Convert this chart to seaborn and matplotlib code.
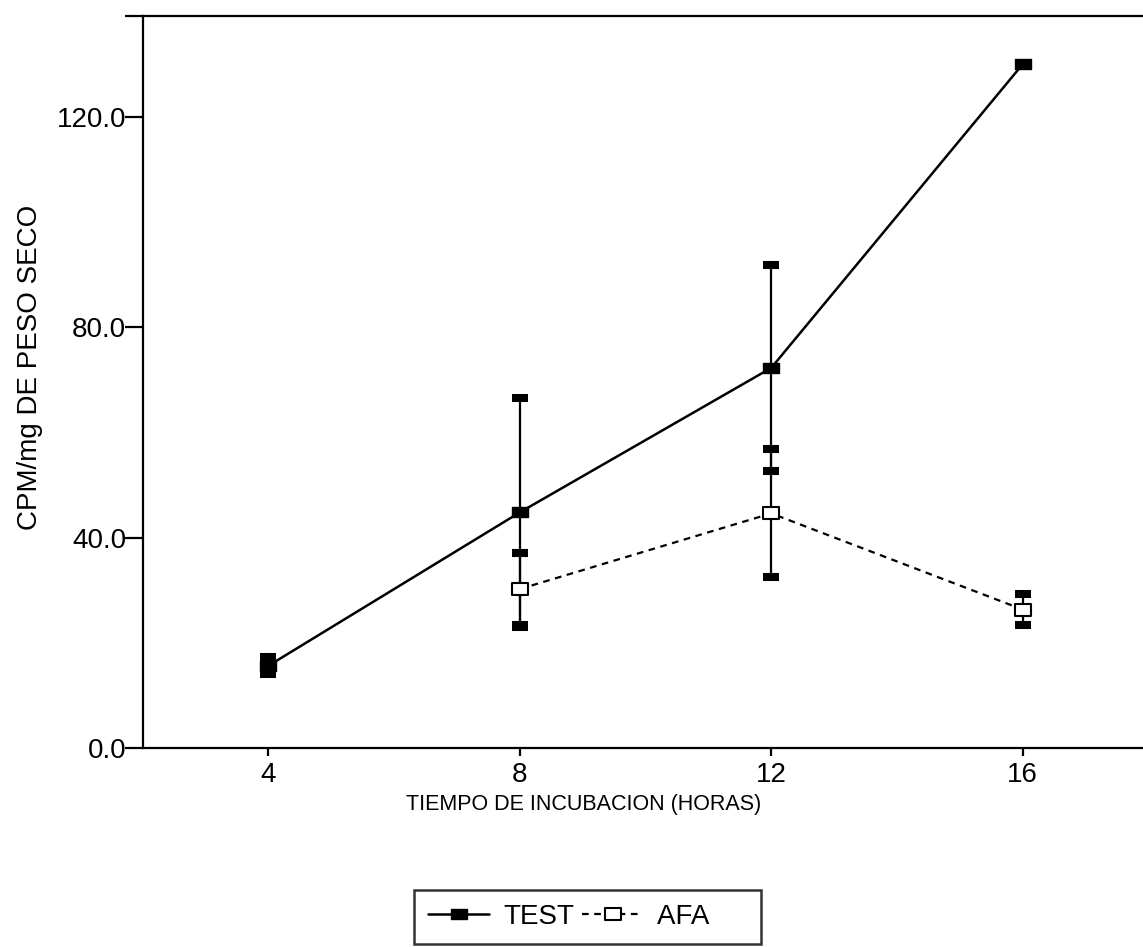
import numpy as np
import pandas as pd
import matplotlib
matplotlib.use("Agg")
import matplotlib.pyplot as plt
from matplotlib.path import Path
import seaborn as sns

# ---- data ----
hours = [4, 8, 12, 16]
test_values = [15.6, 44.8, 72.3, 130.1]
test_err = [1.6, 21.8, 19.6, 0.0]
afa_hours = [8, 12, 16]
afa_values = [30.2, 44.6, 26.3]
afa_err = [6.9, 12.2, 2.9]
y_ticks = [0.0, 40.0, 80.0, 120.0]
y_tick_labels = ["0.0", "40.0", "80.0", "120.0"]
x_ticks = [4, 8, 12, 16]
series_names = ["TEST", "AFA"]

sns.set_style("white")
plt.rcParams["font.family"] = ["Liberation Sans", "DejaVu Sans"]
plt.rcParams["text.color"] = "black"
plt.rcParams["axes.labelcolor"] = "black"
plt.rcParams["xtick.color"] = "black"
plt.rcParams["ytick.color"] = "black"

fig = plt.figure(figsize=(11.43, 9.47), dpi=100)
ax = fig.add_axes([0.1249, 0.2105, 0.8798, 0.7727])

rect = Path([(-1, -0.62), (1, -0.62), (1, 0.62), (-1, 0.62), (-1, -0.62)],
            [Path.MOVETO, Path.LINETO, Path.LINETO, Path.LINETO, Path.CLOSEPOLY])
rect_afa = Path([(-1, -0.75), (1, -0.75), (1, 0.75), (-1, 0.75), (-1, -0.75)],
                [Path.MOVETO, Path.LINETO, Path.LINETO, Path.LINETO, Path.CLOSEPOLY])

df_test = pd.DataFrame({"h": hours, "v": test_values})
df_afa = pd.DataFrame({"h": afa_hours, "v": afa_values})

# error bars
ax.errorbar(hours, test_values, yerr=test_err, fmt="none", ecolor="black",
            elinewidth=1.6, capsize=5.8, capthick=5.8, zorder=2)
ax.errorbar(afa_hours, afa_values, yerr=afa_err, fmt="none", ecolor="black",
            elinewidth=1.6, capsize=5.8, capthick=5.8, zorder=2)

sns.lineplot(data=df_test, x="h", y="v", ax=ax, color="black", linewidth=1.8,
             marker=rect, markersize=11.5, markerfacecolor="black",
             markeredgecolor="black", markeredgewidth=1.0,
             label=series_names[0], zorder=3)
sns.lineplot(data=df_afa, x="h", y="v", ax=ax, color="black", linewidth=1.6,
             linestyle=(0, (3, 2.5)), marker=rect_afa, markersize=11.5,
             markerfacecolor="white", markeredgecolor="black",
             markeredgewidth=1.5, label=series_names[1], zorder=4)

ax.set_xlim(2, 18)
ax.set_ylim(0, 139.3)
ax.set_xticks(x_ticks)
ax.set_xticklabels([str(t) for t in x_ticks], fontsize=20)
ax.set_yticks(y_ticks)
ax.set_yticklabels(y_tick_labels, fontsize=20)
ax.set_yticks([139.3], minor=True)
ax.tick_params(axis="y", which="both", direction="out", length=13, width=1.6,
               color="black", left=True, pad=-1)
ax.tick_params(axis="x", direction="out", length=6, width=1.6, color="black",
               bottom=True, pad=4)

for side in ["left", "bottom", "top"]:
    ax.spines[side].set_visible(True)
    ax.spines[side].set_color("black")
    ax.spines[side].set_linewidth(1.6)
ax.spines["right"].set_visible(False)

ax.set_xlabel("TIEMPO DE INCUBACION (HORAS)", fontsize=15.5)
ax.xaxis.set_label_coords(0.438, -0.063)
ax.set_ylabel("CPM/mg DE PESO SECO", fontsize=20)
ax.yaxis.set_label_coords(-0.099, 0.52)

ax.get_legend().remove()
handles, labels = ax.get_legend_handles_labels()
leg = fig.legend(handles, [labels[0], labels[1] + "     "], loc="center",
                 bbox_to_anchor=(0.514, 0.032),
                 ncol=2, fontsize=20, frameon=True, fancybox=False,
                 edgecolor="black", handlelength=2.2, handletextpad=0.5,
                 columnspacing=0.3, borderpad=0.5, borderaxespad=0)
leg.get_frame().set_linewidth(1.8)

fig.savefig("out.png", dpi=100)
